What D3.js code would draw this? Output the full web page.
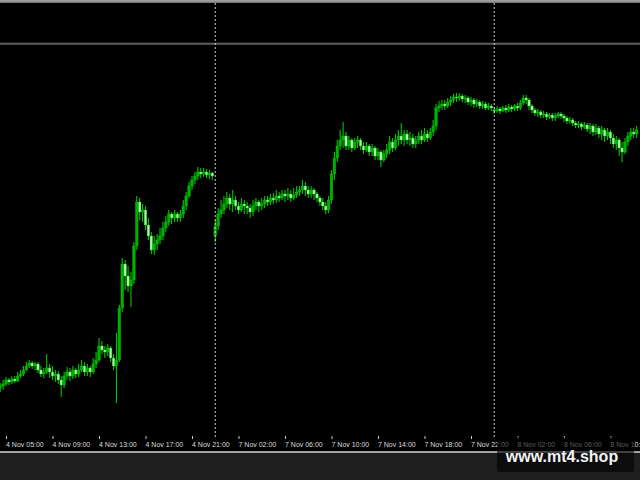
<!DOCTYPE html>
<html>
<head>
<meta charset="utf-8">
<script src="https://cdn.jsdelivr.net/npm/d3@7"></script>
<style>
html,body{margin:0;padding:0;background:#000;overflow:hidden;}
svg{display:block;}
</style>
</head>
<body>
<svg id="chart" width="640" height="480"></svg>
<script>
// ---- data (M15 bars) ----
const sessionStarts = ["2016-11-04T04:30", "2016-11-07T00:00"];
const sessionBars = [74, 146];

const open = [
104.12,104.14,104.16,104.20,104.18,104.21,104.19,104.24,104.26,104.30,
104.34,104.37,104.34,104.36,104.30,104.26,104.28,104.32,104.28,104.24,
104.26,104.20,104.15,104.24,104.28,104.24,104.30,104.26,104.30,104.34,
104.28,104.32,104.28,104.36,104.40,104.54,104.50,104.48,104.52,104.42,
104.34,104.40,104.92,105.36,105.24,105.14,105.20,105.54,105.98,105.88,
105.90,105.75,105.64,105.50,105.56,105.60,105.64,105.72,105.78,105.86,
105.82,105.86,105.82,105.86,105.94,106.04,106.14,106.20,106.24,106.28,
106.26,106.28,106.25,106.27,105.64,105.74,105.86,105.90,105.96,106.02,
105.96,106.00,105.94,105.90,105.96,105.94,105.92,105.88,105.94,105.98,
105.94,105.96,106.00,105.98,106.02,106.00,106.04,106.02,106.06,106.04,
106.06,106.02,106.05,106.08,106.10,106.14,106.10,106.06,106.10,106.06,
106.02,105.98,105.94,105.90,106.00,106.26,106.42,106.54,106.60,106.64,
106.54,106.60,106.52,106.58,106.60,106.54,106.50,106.54,106.48,106.52,
106.44,106.48,106.40,106.46,106.50,106.58,106.52,106.60,106.64,106.60,
106.66,106.60,106.62,106.56,106.60,106.64,106.60,106.66,106.62,106.68,
106.74,106.92,106.94,106.96,106.94,106.98,107.00,107.03,107.02,107.04,
107.01,107.02,106.98,107.00,106.96,106.98,106.94,106.96,106.92,106.94,
106.90,106.89,106.91,106.89,106.92,106.90,106.93,106.91,106.94,106.92,
106.97,107.02,107.00,106.94,106.90,106.87,106.88,106.85,106.86,106.83,
106.85,106.82,106.84,106.86,106.84,106.82,106.79,106.80,106.77,106.75,
106.76,106.73,106.75,106.71,106.74,106.68,106.72,106.66,106.70,106.64,
106.68,106.62,106.56,106.60,106.52,106.48,106.58,106.64,106.68,106.66];

const high = [
104.17,104.20,104.23,104.22,104.24,104.24,104.28,104.30,104.34,104.38,
104.40,104.39,104.38,104.38,104.34,104.32,104.46,104.36,104.34,104.30,
104.29,104.24,104.28,104.33,104.32,104.34,104.32,104.36,104.40,104.38,
104.36,104.34,104.42,104.48,104.62,104.59,104.54,104.56,104.54,104.46,
104.67,104.95,105.42,105.40,105.34,105.28,105.58,106.04,106.02,105.96,
105.94,105.82,105.68,105.64,105.66,105.72,105.78,105.84,105.90,105.88,
105.90,105.88,105.90,106.00,106.08,106.18,106.24,106.28,106.33,106.32,
106.32,106.31,106.30,106.28,105.80,105.92,106.00,106.04,106.08,106.06,
106.10,106.04,105.98,106.02,106.00,105.98,105.96,106.00,106.02,106.00,
106.02,106.04,106.04,106.06,106.07,106.10,106.08,106.10,106.10,106.12,
106.10,106.12,106.14,106.14,106.20,106.18,106.14,106.14,106.12,106.08,
106.04,106.02,105.98,106.04,106.30,106.48,106.60,106.70,106.78,106.68,
106.64,106.62,106.62,106.64,106.62,106.58,106.58,106.56,106.56,106.54,
106.52,106.50,106.50,106.56,106.64,106.62,106.66,106.70,106.77,106.70,
106.70,106.68,106.66,106.64,106.68,106.70,106.72,106.70,106.72,106.80,
106.96,106.99,107.00,107.00,107.02,107.04,107.06,107.07,107.07,107.06,
107.05,107.04,107.03,107.02,107.01,107.00,106.99,106.98,106.97,106.96,
106.93,106.94,106.93,106.94,106.95,106.96,106.95,106.96,106.97,107.00,
107.05,107.05,107.02,106.96,106.92,106.91,106.90,106.89,106.88,106.87,
106.87,106.87,106.88,106.88,106.86,106.84,106.83,106.82,106.79,106.79,
106.78,106.78,106.77,106.77,106.76,106.76,106.74,106.74,106.72,106.72,
106.70,106.66,106.64,106.62,106.58,106.62,106.68,106.72,106.72,106.74];

const low = [
104.08,104.10,104.14,104.15,104.16,104.17,104.18,104.22,104.24,104.29,
104.32,104.31,104.30,104.27,104.23,104.22,104.26,104.22,104.20,104.18,
104.16,104.03,104.12,104.20,104.19,104.21,104.22,104.23,104.28,104.24,
104.24,104.23,104.26,104.32,104.38,104.46,104.42,104.44,104.38,104.30,
103.97,104.38,104.88,105.10,105.08,104.93,105.16,105.50,105.80,105.78,
105.70,105.60,105.46,105.45,105.50,105.56,105.60,105.68,105.74,105.76,
105.78,105.78,105.78,105.82,105.90,106.02,106.10,106.16,106.20,106.22,
106.23,106.22,106.21,106.20,105.58,105.70,105.82,105.86,105.92,105.90,
105.88,105.90,105.86,105.88,105.86,105.86,105.82,105.84,105.90,105.88,
105.90,105.92,105.94,105.95,105.96,105.97,105.98,106.00,105.98,106.00,
105.98,106.00,106.02,106.04,106.06,106.04,106.02,106.02,106.00,105.98,
105.94,105.90,105.86,105.87,105.96,106.20,106.38,106.50,106.52,106.50,
106.50,106.48,106.50,106.52,106.50,106.46,106.48,106.44,106.44,106.40,
106.40,106.33,106.38,106.42,106.46,106.48,106.50,106.54,106.56,106.54,
106.56,106.54,106.52,106.52,106.56,106.56,106.58,106.58,106.60,106.64,
106.70,106.88,106.90,106.90,106.92,106.94,106.97,106.98,106.99,106.98,
106.97,106.95,106.94,106.92,106.93,106.91,106.91,106.90,106.90,106.89,
106.86,106.87,106.86,106.88,106.87,106.88,106.88,106.89,106.89,106.90,
106.95,106.96,106.90,106.87,106.84,106.83,106.82,106.82,106.80,106.81,
106.79,106.79,106.82,106.81,106.78,106.76,106.76,106.74,106.72,106.72,
106.70,106.71,106.68,106.66,106.64,106.65,106.62,106.60,106.58,106.60,
106.56,106.52,106.50,106.44,106.38,106.46,106.54,106.60,106.62,106.62];

const close = [
104.14,104.16,104.20,104.18,104.21,104.19,104.24,104.26,104.30,104.34,
104.37,104.34,104.36,104.30,104.26,104.28,104.32,104.28,104.24,104.26,
104.20,104.15,104.24,104.28,104.24,104.30,104.26,104.30,104.34,104.28,
104.32,104.28,104.36,104.40,104.54,104.50,104.48,104.52,104.42,104.34,
104.40,104.92,105.36,105.24,105.14,105.20,105.54,105.98,105.88,105.90,
105.75,105.64,105.50,105.56,105.60,105.64,105.72,105.78,105.86,105.82,
105.86,105.82,105.86,105.94,106.04,106.14,106.20,106.24,106.28,106.26,
106.28,106.25,106.27,106.24,105.74,105.86,105.90,105.96,106.02,105.96,
106.00,105.94,105.90,105.96,105.94,105.92,105.88,105.94,105.98,105.94,
105.96,106.00,105.98,106.02,106.00,106.04,106.02,106.06,106.04,106.06,
106.02,106.05,106.08,106.10,106.14,106.10,106.06,106.10,106.06,106.02,
105.98,105.94,105.90,106.00,106.26,106.42,106.54,106.60,106.64,106.54,
106.60,106.52,106.58,106.60,106.54,106.50,106.54,106.48,106.52,106.44,
106.48,106.40,106.46,106.50,106.58,106.52,106.60,106.64,106.60,106.66,
106.60,106.62,106.56,106.60,106.64,106.60,106.66,106.62,106.68,106.74,
106.92,106.94,106.96,106.94,106.98,107.00,107.03,107.02,107.04,107.01,
107.02,106.98,107.00,106.96,106.98,106.94,106.96,106.92,106.94,106.92,
106.89,106.91,106.89,106.92,106.90,106.93,106.91,106.94,106.92,106.97,
107.02,107.00,106.94,106.90,106.87,106.88,106.85,106.86,106.83,106.85,
106.82,106.84,106.86,106.84,106.82,106.79,106.80,106.77,106.75,106.76,
106.73,106.75,106.71,106.74,106.68,106.72,106.66,106.70,106.64,106.68,
106.62,106.56,106.60,106.52,106.48,106.58,106.64,106.68,106.66,106.70];

const tickLabels = ["4 Nov 05:00","4 Nov 09:00","4 Nov 13:00","4 Nov 17:00","4 Nov 21:00",
  "7 Nov 02:00","7 Nov 06:00","7 Nov 10:00","7 Nov 14:00","7 Nov 18:00","7 Nov 22:00",
  "8 Nov 02:00","8 Nov 06:00","8 Nov 10:00"];
const watermark = "www.mt4.shop";

// ---- build bar times ----
const parse = d3.timeParse("%Y-%m-%dT%H:%M");
const fmt = d3.timeFormat("%-d %b %H:%M");
const times = [];
sessionStarts.forEach((s, k) => {
  const t0 = parse(s);
  for (let j = 0; j < sessionBars[k]; j++) times.push(d3.timeMinute.offset(t0, 15 * j));
});
const labels = times.map(fmt);
const bars = labels.map((lab, i) => ({lab, t: times[i], o: open[i], h: high[i], l: low[i], c: close[i]}));

// ---- layout ----
const W = 640, H = 480;
const plotTop = 3, plotBottom = 436, frameY = 452;
const svg = d3.select("#chart");

const x = d3.scalePoint().domain(labels).range([0.2, 0.2 + 2.906 * (labels.length - 1)]);
const y = d3.scaleLinear().domain([103.2, 108.0]).range([480, 0]);

// backgrounds
svg.append("rect").attr("x",0).attr("y",0).attr("width",W).attr("height",frameY).attr("fill","#000");
svg.append("rect").attr("x",0).attr("y",frameY).attr("width",W).attr("height",H-frameY).attr("fill","#1e1e1e");
svg.append("rect").attr("x",0).attr("y",0).attr("width",W).attr("height",3).attr("fill","#7a7a7a");
svg.append("line").attr("x1",0).attr("x2",W).attr("y1",0.8).attr("y2",0.8).attr("stroke","#a8a8a8").attr("stroke-width",1.2);
svg.append("line").attr("x1",0).attr("x2",W).attr("y1",43.7).attr("y2",43.7).attr("stroke","#5e5e5e").attr("stroke-width",2);

svg.append("defs").append("clipPath").attr("id","plot")
  .append("rect").attr("x",0).attr("y",plotTop).attr("width",W).attr("height",plotBottom-plotTop);

const plot = svg.append("g").attr("clip-path","url(#plot)");

// day separators
const sepBars = bars.filter((b, i) => i > 0 && b.t.getDate() !== bars[i-1].t.getDate());
svg.append("g").selectAll("line").data(sepBars).join("line")
  .attr("x1", d => x(d.lab)).attr("x2", d => x(d.lab))
  .attr("y1", plotTop).attr("y2", plotBottom + 2)
  .attr("stroke","#cfcfcf").attr("stroke-width",1).attr("stroke-dasharray","2,2");

// candles
const bw = 2.6;
const g = plot.append("g");
g.selectAll("line.wick").data(bars).join("line").attr("class","wick")
  .attr("x1", d => x(d.lab)).attr("x2", d => x(d.lab))
  .attr("y1", d => y(d.h)).attr("y2", d => y(d.l))
  .attr("stroke","#00c400").attr("stroke-width",1.1);
g.selectAll("rect.body").data(bars).join("rect").attr("class","body")
  .attr("x", d => x(d.lab) - bw/2)
  .attr("width", bw)
  .attr("y", d => y(Math.max(d.o, d.c)))
  .attr("height", d => Math.max(1, Math.abs(y(d.o) - y(d.c))))
  .attr("fill", d => d.c >= d.o ? "#00b000" : "#b2f2b2")
  .attr("stroke", "#00c800").attr("stroke-width", 0.4);

// time axis
const axis = d3.axisBottom(x).tickValues(tickLabels).tickSize(3).tickPadding(3).tickFormat(d => d);
const ax = svg.append("g").attr("transform", `translate(0,${plotBottom})`).call(axis);
ax.select(".domain").remove();
ax.selectAll(".tick line").attr("stroke","#c8c8c8");
ax.selectAll(".tick text")
  .attr("text-anchor","start").attr("x",-0.5)
  .attr("fill","#dcdcdc")
  .style("font-family","'Liberation Sans', Arial, sans-serif")
  .style("font-size","7px");

// frame line
svg.append("line").attr("x1",0).attr("x2",W).attr("y1",frameY).attr("y2",frameY)
  .attr("stroke","#d4d4d4").attr("stroke-width",1.5);

// watermark
svg.append("rect").attr("x",497).attr("y",437).attr("width",137).attr("height",35).attr("rx",3)
  .attr("fill","#000").attr("opacity",0.6);
svg.append("text").attr("x",562).attr("y",462).attr("text-anchor","middle")
  .attr("fill","#f4f4f4")
  .style("font-family","'Liberation Sans', Arial, sans-serif")
  .style("font-weight","bold").style("font-size","16px")
  .text(watermark);
</script>
</body>
</html>
